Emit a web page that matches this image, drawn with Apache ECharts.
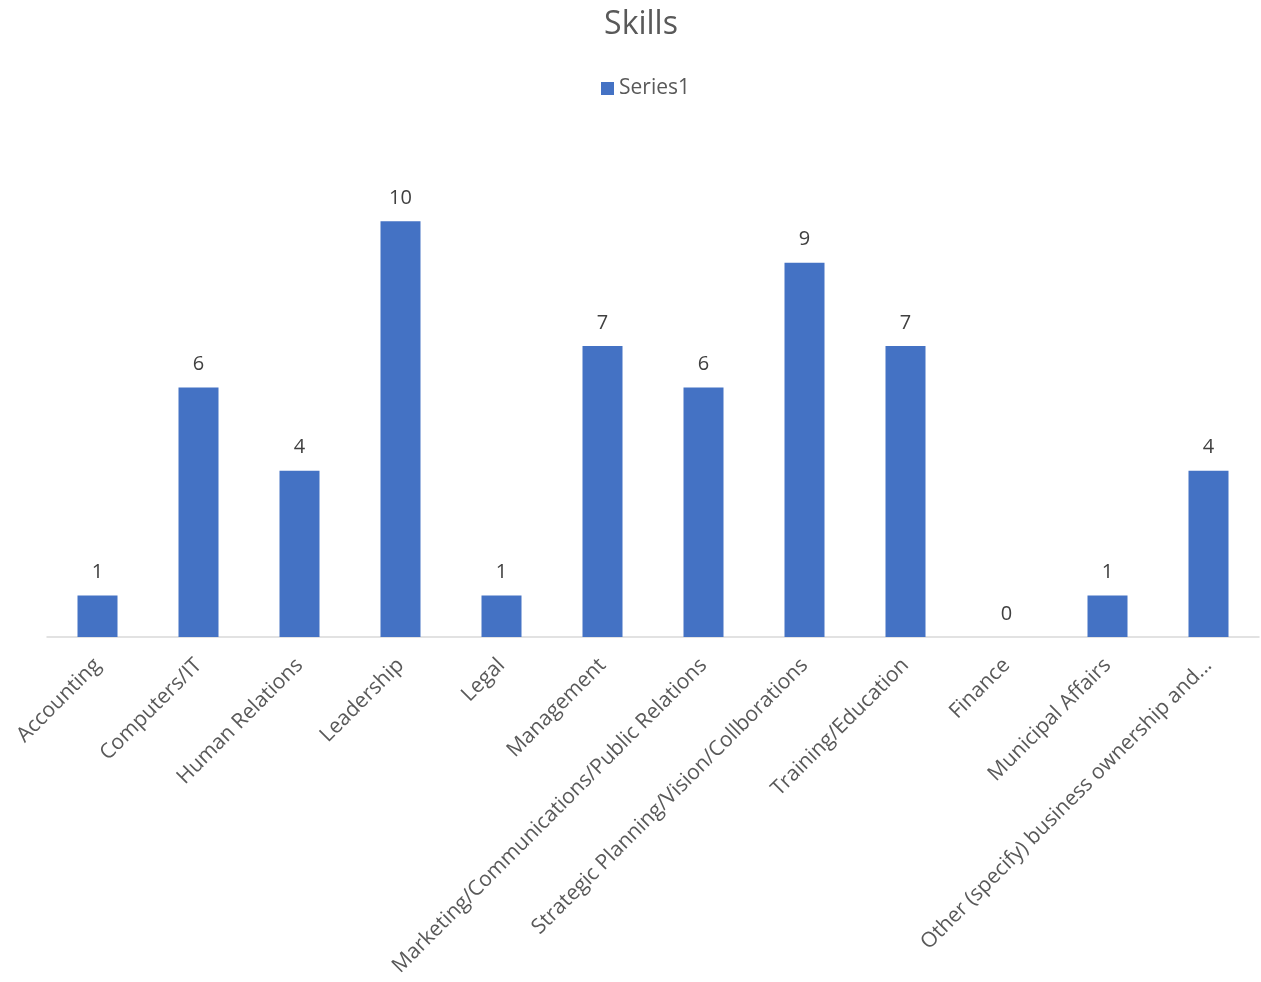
<!DOCTYPE html>
<html>
<head>
<meta charset="utf-8">
<script src="https://cdn.jsdelivr.net/npm/echarts@6/dist/echarts.min.js"></script>
<style>html,body{margin:0;padding:0;background:#fff}#c{width:1261px;height:982px}</style>
</head>
<body>
<div id="c"></div>
<script>
const categories = ["Accounting","Computers/IT","Human Relations","Leadership","Legal","Management","Marketing/Communications/Public Relations","Strategic Planning/Vision/Collborations","Training/Education","Finance","Municipal Affairs","Other (specify) business ownership and..."];
const series1 = [1,6,4,10,1,7,6,9,7,0,1,4];
const seriesName = "Series1";
const titleText = "Skills";

const chart = echarts.init(document.getElementById('c'));
chart.setOption({
  animation: false,
  textStyle: {fontFamily: "Open Sans"},
  title: {text: titleText, left: 636, textAlign: 'center', top: 4, textStyle: {fontSize: 32, fontWeight: 'normal', color: '#595959', fontFamily: 'Open Sans'}},
  legend: {top: 73, left: 596, itemWidth: 13, itemHeight: 13, icon: 'rect', itemGap: 6, textStyle: {fontSize: 21, color: '#595959', fontFamily: 'Open Sans'}, data: [seriesName]},
  grid: {left: 47, right: 2, top: 138, bottom: 345, containLabel: false},
  xAxis: {
    type: 'category', data: categories,
    axisLine: {lineStyle: {color: '#d9d9d9', width: 1.5}},
    axisTick: {show: false},
    axisLabel: {rotate: 45, interval: 0, fontSize: 21, color: '#595959', margin: 25, fontFamily: 'Open Sans'}
  },
  yAxis: {type: 'value', min: 0, max: 12, interval: 2, show: false, splitLine: {show: false}},
  series: [{
    name: seriesName, type: 'bar', data: series1, barWidth: 40,
    itemStyle: {color: '#4472c4'},
    label: {show: true, position: 'top', distance: 13, fontSize: 20, color: '#404040', fontFamily: 'Open Sans'}
  }]
});
</script>
</body>
</html>
